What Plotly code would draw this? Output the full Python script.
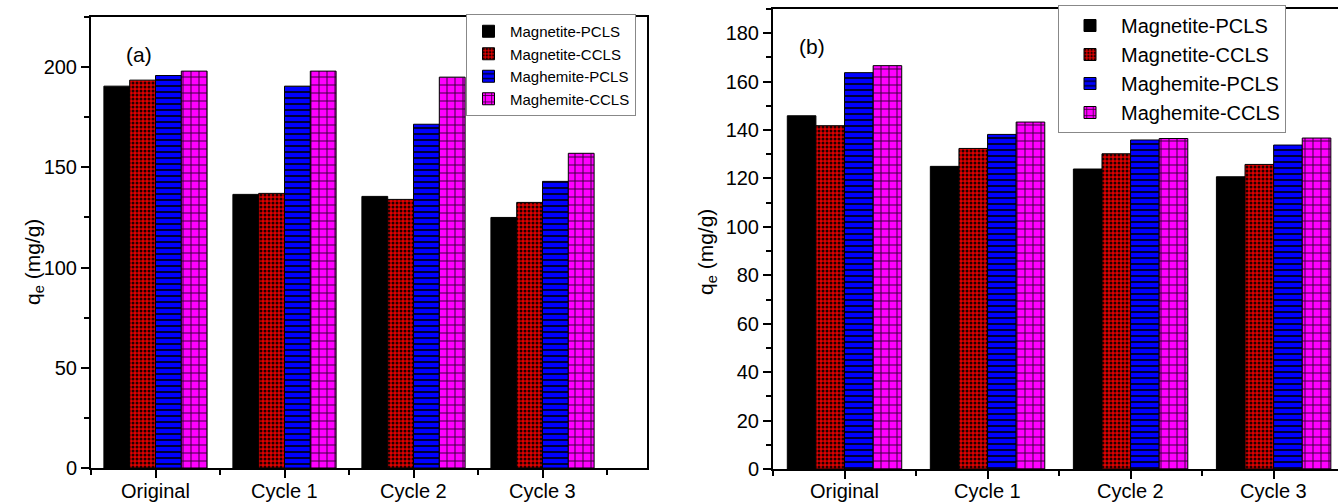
import plotly.graph_objects as go

categories = ["Original", "Cycle 1", "Cycle 2", "Cycle 3"]
series_names = ["Magnetite-PCLS", "Magnetite-CCLS", "Maghemite-PCLS", "Maghemite-CCLS"]

# Panel (a)
a_magnetite_pcls = [190.5, 136.5, 135.5, 125.0]
a_magnetite_ccls = [193.5, 137.0, 134.0, 132.5]
a_maghemite_pcls = [195.8, 190.5, 171.5, 143.0]
a_maghemite_ccls = [198.0, 198.0, 195.0, 157.0]

# Panel (b)
b_magnetite_pcls = [145.9, 125.0, 123.9, 120.7]
b_magnetite_ccls = [141.8, 132.4, 130.2, 125.8]
b_maghemite_pcls = [163.7, 138.2, 135.9, 133.8]
b_maghemite_ccls = [166.6, 143.3, 136.5, 136.7]

y_title = "q<sub>e</sub> (mg/g)"

W, H = 1338, 502
FONT = "Arial, Liberation Sans, Helvetica, sans-serif"

styles = [
    dict(color="#000000", pattern=dict(shape="")),
    dict(color="#e00000", pattern=dict(shape=".", fgcolor="#200000", bgcolor="#e00000",
                                       size=4, solidity=0.45, fillmode="replace")),
    dict(color="#0000ff", pattern=dict(shape="-", fgcolor="#000020", bgcolor="#0000ff",
                                       size=6, solidity=0.3, fillmode="replace")),
    dict(color="#ff00ff", pattern=dict(shape="+", fgcolor="#300030", bgcolor="#ff00ff",
                                       size=8, solidity=0.22, fillmode="replace")),
]

xpos = list(range(len(categories)))

fig = go.Figure()
a_data = [a_magnetite_pcls, a_magnetite_ccls, a_maghemite_pcls, a_maghemite_ccls]
b_data = [b_magnetite_pcls, b_magnetite_ccls, b_maghemite_pcls, b_maghemite_ccls]

for name, vals, st in zip(series_names, a_data, styles):
    fig.add_trace(go.Bar(
        x=xpos, y=vals, name=name, xaxis="x", yaxis="y", legend="legend",
        marker=dict(color=st["color"], pattern=st["pattern"],
                    line=dict(color="#000000", width=1)),
    ))
for name, vals, st in zip(series_names, b_data, styles):
    fig.add_trace(go.Bar(
        x=xpos, y=vals, name=name, xaxis="x2", yaxis="y2", legend="legend2",
        marker=dict(color=st["color"], pattern=st["pattern"],
                    line=dict(color="#000000", width=1)),
    ))

def px(x):
    return x / W

def py(y):
    return (H - y) / H

axis_common = dict(
    showgrid=False, zeroline=False, showline=True, linecolor="#000000", linewidth=2,
    ticks="outside", tickcolor="#000000", tickwidth=2, ticklen=8,
    tickfont=dict(family=FONT, size=20, color="#000000"), automargin=False,
)

annotations = [
    dict(text=y_title, x=px(19), y=py(262), xref="paper", yref="paper",
         showarrow=False, textangle=-90, font=dict(family=FONT, size=21, color="#000000")),
    dict(text=y_title, x=px(707), y=py(252), xref="paper", yref="paper",
         showarrow=False, textangle=-90, font=dict(family=FONT, size=21, color="#000000")),
    dict(text="(a)", x=px(124), y=py(41), xref="paper", yref="paper",
         showarrow=False, font=dict(family=FONT, size=21, color="#000000")),
    dict(text="(b)", x=px(812), y=py(33), xref="paper", yref="paper",
         showarrow=False, font=dict(family=FONT, size=21, color="#000000")),
]
# category labels placed through each x axis scale
for xa in ["x", "x2"]:
    for i, c in zip(xpos, categories):
        annotations.append(dict(text=c, x=i, y=py(491), xref=xa, yref="paper",
                                showarrow=False, yanchor="middle",
                                font=dict(family=FONT, size=20, color="#000000")))

fig.update_layout(
    width=W, height=H,
    margin=dict(l=0, r=0, t=0, b=0),
    paper_bgcolor="#ffffff", plot_bgcolor="#ffffff",
    barmode="group", bargap=0.2, bargroupgap=0,
    font=dict(family=FONT, color="#000000", size=16),
    xaxis=dict(axis_common, domain=[px(91), px(647)], range=[-0.5, 3.81],
               tickmode="array", tickvals=xpos, ticktext=categories, mirror=True,
               showticklabels=False,
               minor=dict(tickmode="array", tickvals=[-0.5, 0.5, 1.5, 2.5, 3.5],
                          ticks="outside", ticklen=5, tickcolor="#000000", tickwidth=2),
               anchor="y"),
    yaxis=dict(axis_common, domain=[py(468), py(17)], range=[0, 225],
               tickmode="array", tickvals=[0, 50, 100, 150, 200], mirror=True,
               minor=dict(tickmode="linear", tick0=0, dtick=25, ticks="outside",
                          ticklen=5, tickcolor="#000000", tickwidth=2),
               anchor="x"),
    xaxis2=dict(axis_common, domain=[px(773), 1.0], range=[-0.5, 3.45],
                tickmode="array", tickvals=xpos, ticktext=categories, mirror=True,
                showticklabels=False,
                minor=dict(tickmode="array", tickvals=[-0.5, 0.5, 1.5, 2.5, 3.5],
                           ticks="outside", ticklen=5, tickcolor="#000000", tickwidth=2),
                anchor="y2"),
    yaxis2=dict(axis_common, domain=[py(469), py(9)], range=[0, 190],
                tickmode="array", tickvals=list(range(0, 181, 20)), mirror=False,
                minor=dict(tickmode="linear", tick0=0, dtick=10, ticks="outside",
                           ticklen=5, tickcolor="#000000", tickwidth=2),
                anchor="x2"),
    legend=dict(x=px(466), y=py(14), xanchor="left", yanchor="top",
                bgcolor="#ffffff", bordercolor="#888888", borderwidth=1,
                font=dict(family=FONT, size=15, color="#000000"),
                tracegroupgap=0, itemwidth=33),
    legend2=dict(x=px(1058), y=py(5), xanchor="left", yanchor="top",
                 bgcolor="#ffffff", bordercolor="#888888", borderwidth=1,
                 font=dict(family=FONT, size=20, color="#000000"),
                 tracegroupgap=0, itemwidth=52),
    annotations=annotations,
)

fig.write_html("out.html")
